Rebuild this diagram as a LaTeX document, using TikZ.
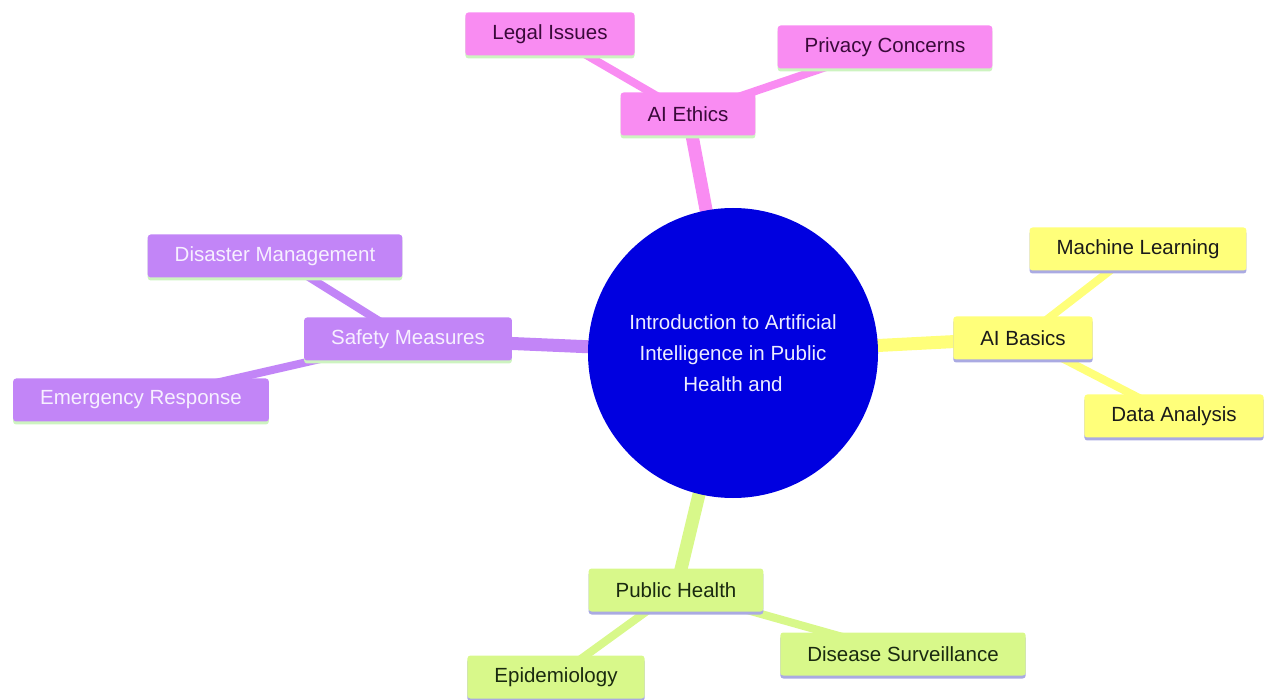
\documentclass[tikz,border=0pt]{standalone}
\usepackage{fontspec}
\setmainfont{Liberation Sans}
\usetikzlibrary{shadows,backgrounds}
\definecolor{pinkc}{HTML}{F98CF2}
\definecolor{purplec}{HTML}{C285F7}
\definecolor{yellowc}{HTML}{FFFF7A}
\definecolor{greenc}{HTML}{D8F88A}
\definecolor{bluec}{HTML}{0000E0}
\definecolor{pinktext}{HTML}{3A0A3A}
\definecolor{purpletext}{HTML}{F7F0FF}
\definecolor{yellowtext}{HTML}{1A1A1A}
\definecolor{greentext}{HTML}{1A2A10}
\definecolor{greensh}{HTML}{CDF3C0}
\definecolor{lavsh}{HTML}{AAAAE2}
\definecolor{centertext}{HTML}{ECECFF}
\begin{document}
\begin{tikzpicture}[x=1pt,y=-1pt,
  font=\fontsize{20.5}{31}\selectfont,
  box/.style={rectangle, rounded corners=3pt, minimum height=43pt, inner xsep=27pt, inner ysep=0pt},
  pinkbox/.style={box, fill=pinkc, text=pinktext, drop shadow={shadow xshift=0pt, shadow yshift=-3pt, fill=greensh, opacity=1}},
  purplebox/.style={box, fill=purplec, text=purpletext, drop shadow={shadow xshift=0pt, shadow yshift=-3pt, fill=greensh, opacity=1}},
  yellowbox/.style={box, fill=yellowc, text=yellowtext, drop shadow={shadow xshift=0pt, shadow yshift=-3pt, fill=lavsh, opacity=1}},
  greenbox/.style={box, fill=greenc, text=greentext, drop shadow={shadow xshift=0pt, shadow yshift=-3pt, fill=lavsh, opacity=1}},
  mainline/.style={line width=13pt},
  subline/.style={line width=8pt}]
\useasboundingbox (0,0) rectangle (1264,700);

\node[circle, fill=bluec, minimum size=290pt, inner sep=0pt, text=centertext, align=center] (c) at (733,353)
  {Introduction to Artificial\\Intelligence in Public\\Health and};

\node[pinkbox] (eth) at (688,114) {AI Ethics};
\node[pinkbox] (legal) at (550,34) {Legal Issues};
\node[pinkbox] (priv) at (885,47) {Privacy Concerns};

\node[yellowbox] (bas) at (1023,338) {AI Basics};
\node[yellowbox] (ml) at (1138,249) {Machine Learning};
\node[yellowbox] (da) at (1174,416) {Data Analysis};

\node[purplebox] (saf) at (408,339) {Safety Measures};
\node[purplebox] (dis) at (275,256) {Disaster Management};
\node[purplebox] (emr) at (141,400) {Emergency Response};

\node[greenbox] (ph) at (676,590) {Public Health};
\node[greenbox] (epi) at (556,677) {Epidemiology};
\node[greenbox] (ds) at (903,654) {Disease Surveillance};

\begin{scope}[on background layer]
  \draw[mainline, pinkc] (c.center) -- (eth.center);
  \draw[subline, pinkc] (eth.center) -- (legal.center);
  \draw[subline, pinkc] (eth.center) -- (priv.center);
  \draw[mainline, yellowc] (c.center) -- (bas.center);
  \draw[subline, yellowc] (bas.center) -- (ml.center);
  \draw[subline, yellowc] (bas.center) -- (da.center);
  \draw[mainline, purplec] (c.center) -- (saf.center);
  \draw[subline, purplec] (saf.center) -- (dis.center);
  \draw[subline, purplec] (saf.center) -- (emr.center);
  \draw[mainline, greenc] (c.center) -- (ph.center);
  \draw[subline, greenc] (ph.center) -- (epi.center);
  \draw[subline, greenc] (ph.center) -- (ds.center);
\end{scope}
\end{tikzpicture}
\end{document}
